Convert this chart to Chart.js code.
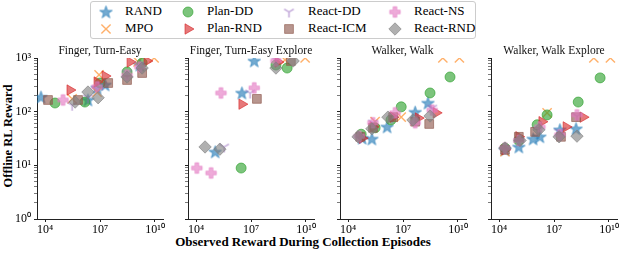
<!DOCTYPE html>
<html lang="en">
<head>
<meta charset="UTF-8">
<title>Offline RL Reward vs Observed Reward</title>
<script src="https://cdn.jsdelivr.net/npm/chart.js"></script>
<style>
  body { margin: 0; background: #fff; font-family: 'Liberation Serif', 'DejaVu Serif', serif; }
  #fig { position: relative; width: 623px; height: 254px; overflow: hidden; }
  #fig canvas.panel { position: absolute; }
  .ptitle { position: absolute; font-size: 11.5px; white-space: nowrap; transform: translateX(-50%); color: #111;
            font-family: 'Liberation Serif', serif; }
  #legend { position: absolute; left: 90px; top: 1px; width: 386px; height: 38px;
            border: 1px solid #ccc; border-radius: 3px; box-sizing: border-box; }
  .litem { position: absolute; font-size: 13px; line-height: 16px; white-space: nowrap; }
  .lmark { position: absolute; }
  #xlabel { position: absolute; left: 303px; top: 234px; transform: translateX(-50%);
            font-weight: bold; font-size: 13px; white-space: nowrap; }
  #ylabel { position: absolute; left: 8px; top: 136px; transform: translate(-50%, -50%) rotate(-90deg);
            font-weight: bold; font-size: 12.5px; white-space: nowrap; }
</style>
</head>
<body>
<div id="fig">
  <div id="legend"></div>
  <div id="xlabel">Observed Reward During Collection Episodes</div>
  <div id="ylabel">Offline RL Reward</div>
</div>

<script>
// panels and series
const panelTitles = ['Finger, Turn-Easy', 'Finger, Turn-Easy Explore', 'Walker, Walk', 'Walker, Walk Explore'];
const seriesNames = ['RAND', 'MPO', 'Plan-DD', 'Plan-RND', 'React-DD', 'React-ICM', 'React-NS', 'React-RND'];

// tick labels
const xTickValues = [1e4, 1e7, 1e10];
const xTickLabels = ['10\u2074', '10\u2077', '10\u00b9\u2070'];
const yTickValues = [1, 10, 100, 1000];
const yTickLabels = ['10\u2070', '10\u00b9', '10\u00b2', '10\u00b3'];

// [observed reward, offline RL reward], one list per panel
const randPts = [
  [[6e3, 187], [2.2e6, 165], [6.9e6, 277], [1.9e7, 315], [1.5e9, 740]],
  [[1.1e5, 17.8], [3.2e6, 223], [1.5e7, 880]],
  [[5.9e4, 32], [2e5, 31], [1.35e6, 52], [4.6e7, 98], [2.3e8, 145]],
  [[2.1e4, 19.5], [1.2e5, 22], [7.2e5, 31], [1.7e6, 34], [2.1e7, 46], [1.6e8, 48]]
];
const mpoPts = [
  [[3e5, 173], [6.9e6, 232], [8.9e6, 483], [1.2e9, 850], [9e9, 1000]],
  [[7.2e8, 920], [9e9, 1000]],
  [[3e5, 65], [8e6, 79], [1.5e9, 1000], [1.2e10, 1000]],
  [[2.1e4, 18], [4.2e6, 95], [1.5e9, 1000], [1.2e10, 1000]]
];
const planDdPts = [
  [[3.5e4, 145], [1.5e6, 151], [1e7, 342], [3e8, 549], [2e9, 807]],
  [[2.9e6, 8.9], [2.3e8, 740], [9.4e8, 650]],
  [[5.2e4, 38], [3e5, 50], [2.2e6, 70], [8e6, 123], [3e8, 223], [3.7e9, 443]],
  [[2.1e4, 21], [1.2e5, 29], [1.2e6, 57], [4.2e6, 87], [2.1e8, 151], [3.3e9, 426]]
];
const planRndPts = [
  [[2.3e5, 253], [6.9e6, 357], [1.9e7, 461], [4.4e8, 842], [3.7e9, 880]],
  [[3.2e6, 138], [3e8, 842]],
  [[5.9e4, 32], [2.3e5, 52], [2.9e6, 79], [6.8e7, 76], [6.5e8, 95]],
  [[2.1e4, 19.5], [1.2e5, 34], [2.2e6, 65], [4.6e7, 52], [3.9e8, 79]]
];
const reactDdPts = [
  [[3e5, 132], [2.2e6, 182], [1.3e7, 315], [3e8, 525], [1.5e9, 740]],
  [[3.4e5, 22], [8.9e6, 223], [2.3e8, 917]],
  [[4.6e4, 32], [2.3e5, 62], [2.5e6, 76], [4.6e7, 70], [3.9e8, 117]],
  [[2.1e4, 20], [1.2e5, 29], [1.2e6, 46], [1.9e7, 42], [1.8e8, 83]]
];
const reactIcmPts = [
  [[1.45e4, 165], [6.3e5, 165], [2.8e7, 342], [3e8, 389], [2e9, 525]],
  [[2.1e7, 173], [1.5e9, 880]],
  [[4.6e4, 34], [2.3e5, 50], [2.9e6, 79], [4.6e7, 65], [2.7e8, 59]],
  [[2.1e4, 19.5], [1.2e5, 34], [9.3e5, 42], [2.4e7, 34], [1.6e8, 79]]
];
const reactNsPts = [
  [[9.6e4, 165], [6.9e6, 289], [3e8, 483], [1.5e9, 680]],
  [[1.1e4, 8.9], [6.6e4, 7.2], [2.3e5, 223], [1.5e7, 277], [2.3e8, 880]],
  [[4e4, 35], [2.3e5, 62], [3.7e6, 95], [4.6e7, 62], [3.9e8, 107]],
  [[2.1e4, 21], [1.2e5, 29], [1.7e6, 52], [2.1e7, 37], [1.8e8, 87]]
];
const reactRndPts = [
  [[4.4e5, 151], [2.2e6, 232], [7.9e6, 182], [3e8, 443], [2e9, 650]],
  [[3.1e4, 22], [2e5, 20], [2.3e8, 650], [2e9, 880]],
  [[3.5e4, 34], [2e5, 48], [1.5e6, 79], [3.5e7, 70], [3e8, 83]],
  [[2.1e4, 21], [1.4e5, 29], [1.5e6, 46], [1.9e7, 34], [1.8e8, 35]]
];
const seriesPts = [randPts, mpoPts, planDdPts, planRndPts, reactDdPts, reactIcmPts, reactNsPts, reactRndPts];

// styling
const colors = ['#1f77b4', '#ff7f0e', '#2ca02c', '#d62728', '#9467bd', '#8c564b', '#e377c2', '#7f7f7f'];
const ALPHA = 0.62;
const FONT = "'Liberation Serif', serif";

function rgba(hex, a) {
  const n = parseInt(hex.slice(1), 16);
  return `rgba(${n >> 16}, ${(n >> 8) & 255}, ${n & 255}, ${a})`;
}

// markers chart.js has no shape for (filled star, tri_down, filled plus)
function markerCanvas(kind, hex) {
  const c = document.createElement('canvas');
  c.width = c.height = 15;
  const g = c.getContext('2d');
  const m = 7.5;
  g.fillStyle = rgba(hex, ALPHA);
  g.strokeStyle = rgba(hex, ALPHA);
  g.lineWidth = 1;
  g.beginPath();
  if (kind === 'star') {
    for (let i = 0; i < 10; i++) {
      const r = i % 2 ? 2.6 : 6.6;
      const a = -Math.PI / 2 + i * Math.PI / 5;
      g.lineTo(m + r * Math.cos(a), m + 0.5 + r * Math.sin(a));
    }
    g.closePath(); g.fill(); g.stroke();
  } else if (kind === 'tri') {
    g.lineWidth = 1.4;
    g.moveTo(m, m); g.lineTo(m, m + 5.5);
    g.moveTo(m, m); g.lineTo(m - 4.8, m - 2.8);
    g.moveTo(m, m); g.lineTo(m + 4.8, m - 2.8);
    g.stroke();
  } else if (kind === 'plus') {
    const a = 1.8, b = 5.2;
    const pts = [[-a, -b], [a, -b], [a, -a], [b, -a], [b, a], [a, a], [a, b], [-a, b], [-a, a], [-b, a], [-b, -a], [-a, -a]];
    pts.forEach(p => g.lineTo(m + p[0], m + p[1]));
    g.closePath(); g.fill(); g.stroke();
  }
  return c;
}

const pointStyles = [
  { pointStyle: markerCanvas('star', colors[0]) },
  { pointStyle: 'crossRot', pointRadius: 6.5, pointBorderWidth: 1.4 },
  { pointStyle: 'circle', pointRadius: 5 },
  { pointStyle: 'triangle', pointRotation: 90, pointRadius: 6 },
  { pointStyle: markerCanvas('tri', colors[4]) },
  { pointStyle: 'rect', pointRadius: 6.2 },
  { pointStyle: markerCanvas('plus', colors[6]) },
  { pointStyle: 'rectRot', pointRadius: 6.2 }
];

// panel geometry (plot area in page pixels)
const plotLefts = [37, 188, 339.5, 491];
const PLOT_W = 126, PLOT_TOP = 58, PLOT_H = 161;
const AXIS_W = 30, PAD_R = 18, PAD_T = 13, XAXIS_H = 22;
const X_MIN = Math.pow(10, 3.56), X_MAX = Math.pow(10, 10.44);

const fig = document.getElementById('fig');

panelTitles.forEach((title, p) => {
  const cv = document.createElement('canvas');
  cv.className = 'panel';
  cv.width = AXIS_W + PLOT_W + PAD_R;
  cv.height = PAD_T + PLOT_H + XAXIS_H;
  cv.style.left = (plotLefts[p] - AXIS_W) + 'px';
  cv.style.top = (PLOT_TOP - PAD_T) + 'px';
  fig.appendChild(cv);

  const t = document.createElement('div');
  t.className = 'ptitle';
  t.textContent = title;
  t.style.left = (plotLefts[p] + PLOT_W / 2) + 'px';
  t.style.top = '44px';
  fig.appendChild(t);

  const datasets = seriesNames.map((name, i) => Object.assign({
    label: name,
    data: seriesPts[i][p].map(d => ({ x: d[0], y: d[1] })),
    pointBackgroundColor: rgba(colors[i], ALPHA),
    pointBorderColor: rgba(colors[i], ALPHA),
    pointBorderWidth: 1,
    clip: 0,
    order: -i
  }, pointStyles[i]));

  new Chart(cv, {
    type: 'scatter',
    data: { datasets },
    options: {
      responsive: false,
      animation: false,
      layout: { padding: { top: PAD_T, right: PAD_R, left: 0, bottom: 0 } },
      plugins: { legend: { display: false }, tooltip: { enabled: false } },
      scales: {
        x: {
          type: 'logarithmic', min: X_MIN, max: X_MAX,
          afterBuildTicks: s => { s.ticks = xTickValues.map(v => ({ value: v })); },
          afterFit: s => { s.height = XAXIS_H; },
          ticks: {
            autoSkip: false, maxRotation: 0, padding: 1, color: '#000',
            font: { family: FONT, size: 12 },
            callback: (v, i) => xTickLabels[i]
          },
          grid: { drawOnChartArea: false, tickLength: 3, tickColor: '#222' },
          border: { color: '#222', width: 1 }
        },
        y: {
          type: 'logarithmic', min: 1, max: 1000,
          afterBuildTicks: s => {
            const ticks = [];
            for (let k = 0; k < yTickValues.length - 1; k++)
              for (let j = 1; j < 10; j++) ticks.push({ value: yTickValues[k] * j });
            ticks.push({ value: yTickValues[yTickValues.length - 1] });
            s.ticks = ticks;
          },
          afterFit: s => { s.width = AXIS_W; },
          ticks: {
            autoSkip: false, padding: 3, color: '#000',
            font: { family: FONT, size: 12 },
            callback: v => {
              const k = yTickValues.indexOf(v);
              return (p === 0 && k >= 0) ? yTickLabels[k] : '';
            }
          },
          grid: {
            drawOnChartArea: false, tickLength: 3, tickColor: '#222',
            tickWidth: c => yTickValues.includes(c.tick.value) ? 1 : 0.6
          },
          border: { color: '#222', width: 1 }
        }
      }
    }
  });
});

// legend, laid out in 4 columns of 2 like the reference
const legend = document.getElementById('legend');
const markX = [15, 97, 198, 304];
const textX = [34, 116, 217, 323];
const rowY = [10, 27];
seriesNames.forEach((name, i) => {
  const col = Math.floor(i / 2), row = i % 2;
  const mc = document.createElement('canvas');
  mc.width = mc.height = 16;
  mc.className = 'lmark';
  mc.style.left = (markX[col] - 8) + 'px';
  mc.style.top = (rowY[row] - 8) + 'px';
  legend.appendChild(mc);
  const g = mc.getContext('2d');
  const st = pointStyles[i];
  g.fillStyle = rgba(colors[i], ALPHA);
  g.strokeStyle = rgba(colors[i], ALPHA);
  g.lineWidth = st.pointBorderWidth || 1;
  Chart.helpers.drawPoint(g, {
    pointStyle: st.pointStyle, radius: st.pointRadius || 5,
    rotation: st.pointRotation || 0, borderWidth: g.lineWidth
  }, 8, 8);

  const tx = document.createElement('div');
  tx.className = 'litem';
  tx.textContent = name;
  tx.style.left = textX[col] + 'px';
  tx.style.top = (rowY[row] - 9) + 'px';
  legend.appendChild(tx);
});
</script>
</body>
</html>
